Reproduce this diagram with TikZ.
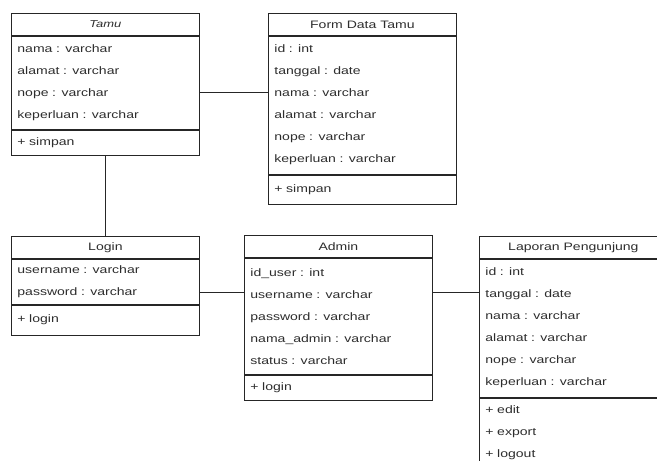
\documentclass[tikz,border=0pt]{standalone}
\usepackage{fontspec}
\setmainfont{Liberation Sans}[FakeStretch=1.3]
\usetikzlibrary{positioning}
\definecolor{umltext}{RGB}{45,45,45}
\tikzstyle{classhead} = [rectangle, draw=black!85, line width=0.8pt, minimum width=188pt, minimum height=22pt, text centered, inner sep=0pt]
\tikzstyle{classpart} = [rectangle, draw=black!85, line width=0.8pt, minimum width=188pt, text width=176pt, align=left, inner xsep=6pt, inner ysep=0pt]
\tikzstyle{link} = [draw=black!85, line width=0.8pt]

\begin{document}
\begin{tikzpicture}[font=\fontsize{10.8pt}{22pt}\selectfont, text=umltext]
\useasboundingbox (0,0) rectangle (657pt,-461pt);
\clip (0,0) rectangle (657pt,-461pt);
% Tamu
\node (tamu) [classhead, anchor=north west, font=\itshape] at (11pt,-13pt) {Tamu};
\node (tamuattr) [classpart, below=0pt of tamu, minimum height=93pt] {nama : varchar\\alamat : varchar\\nope : varchar\\keperluan : varchar};
\node (tamuop) [classpart, below=0pt of tamuattr, minimum height=25pt] {+ simpan};
% Form Data Tamu
\node (form) [classhead, anchor=north west] at (268pt,-13pt) {Form Data Tamu};
\node (formattr) [classpart, below=0pt of form, minimum height=138pt] {id : int\\tanggal : date\\nama : varchar\\alamat : varchar\\nope : varchar\\keperluan : varchar};
\node (formop) [classpart, below=0pt of formattr, minimum height=29pt] {+ simpan};
% Login
\node (login) [classhead, anchor=north west] at (11pt,-236pt) {Login};
\node (loginattr) [classpart, below=0pt of login, minimum height=45pt] {username : varchar\\password : varchar};
\node (loginop) [classpart, below=0pt of loginattr, minimum height=30pt] {+ login};
% Admin
\node (admin) [classhead, anchor=north west] at (244pt,-235pt) {Admin};
\node (adminattr) [classpart, below=0pt of admin, minimum height=116pt] {id\_user : int\\username : varchar\\password : varchar\\nama\_admin : varchar\\status : varchar};
\node (adminop) [classpart, below=0pt of adminattr, minimum height=25pt] {+ login};
% Laporan Pengunjung
\node (laporan) [classhead, anchor=north west] at (479pt,-236pt) {Laporan Pengunjung};
\node (laporanattr) [classpart, below=0pt of laporan, minimum height=138pt] {id : int\\tanggal : date\\nama : varchar\\alamat : varchar\\nope : varchar\\keperluan : varchar};
\node (laporanop) [classpart, below=0pt of laporanattr, minimum height=70pt] {+ edit\\+ export\\+ logout};
% relasi
\draw [link] (tamuop) -- (login);
\draw [link] ([yshift=-9.5pt]tamuattr.east) -- ([yshift=-9.5pt]tamuattr.east -| formattr.west);
\draw [link] ([yshift=-10.5pt]loginattr.east) -- ([yshift=-10.5pt]loginattr.east -| adminattr.west);
\draw [link] ([yshift=24pt]adminattr.east) -- ([yshift=24pt]adminattr.east -| laporanattr.west);
\end{tikzpicture}
\end{document}
